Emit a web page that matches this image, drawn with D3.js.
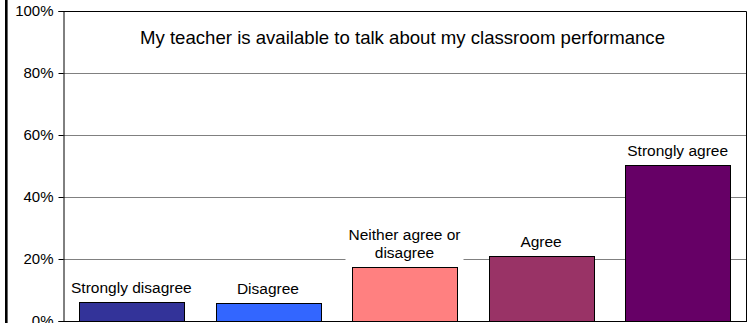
<!DOCTYPE html>
<html>
<head>
<meta charset="utf-8">
<script src="https://cdn.jsdelivr.net/npm/d3@7"></script>
<style>
  html, body { margin: 0; padding: 0; background: #fff; overflow: hidden; }
  svg { display: block; font-family: Arial, "Liberation Sans", Helvetica, sans-serif; }
</style>
</head>
<body>
<svg id="chart" width="752" height="323"></svg>
<script>
// Survey responses (share of students)
const categories = ["Strongly disagree", "Disagree", "Neither agree or disagree", "Agree", "Strongly agree"];
const labelLines = [["Strongly disagree"], ["Disagree"], ["Neither agree or", "disagree"], ["Agree"], ["Strongly agree"]];
const values = [0.060, 0.057, 0.175, 0.209, 0.502];
const barColors = ["#333399", "#3366ff", "#ff8080", "#993366", "#660066"];
const tickValues = [0, 0.2, 0.4, 0.6, 0.8, 1.0];
const title = "My teacher is available to talk about my classroom performance";

const svg = d3.select("#chart");
const plot = { left: 63, right: 746, top: 11, bottom: 321 };

const x = d3.scaleBand()
  .domain(categories)
  .range([plot.left, plot.right])
  .paddingInner(0.233)
  .paddingOuter(0.117);

const y = d3.scaleLinear()
  .domain([0, 1])
  .range([plot.bottom, plot.top]);

// outer border on the left of the chart area
svg.append("rect")
  .attr("x", 5).attr("y", 0)
  .attr("width", 2.6).attr("height", 323)
  .attr("fill", "#000");

// horizontal gridlines
svg.append("g")
  .selectAll("line")
  .data(tickValues.filter(d => d > 0 && d < 1))
  .join("line")
  .attr("x1", plot.left).attr("x2", plot.right)
  .attr("y1", d => Math.round(y(d)) + 0.5)
  .attr("y2", d => Math.round(y(d)) + 0.5)
  .attr("stroke", "#808080")
  .attr("stroke-width", 1);

// plot frame (top and right)
svg.append("path")
  .attr("d", `M${plot.left},${plot.top + 0.5}H${plot.right + 0.5}V${plot.bottom}`)
  .attr("fill", "none")
  .attr("stroke", "#000")
  .attr("stroke-width", 1);

// y axis
const yAxis = d3.axisLeft(y)
  .tickValues(tickValues)
  .tickFormat(d3.format(".0%"))
  .tickSize(5)
  .tickPadding(5);

const gy = svg.append("g")
  .attr("transform", `translate(${plot.left + 0.5},0)`)
  .call(yAxis);
gy.select(".domain").attr("stroke", "#000");
gy.selectAll(".tick line").attr("stroke", "#000");
gy.selectAll(".tick text")
  .attr("fill", "#000")
  .style("font-size", "15px")
  .style("font-family", "Arial, 'Liberation Sans', sans-serif");
gy.selectAll(".tick").attr("transform", d => `translate(0,${Math.round(y(d)) + 0.5})`);

// title inside the plot area
svg.append("text")
  .attr("x", (plot.left + plot.right) / 2 - 2)
  .attr("y", 44)
  .attr("text-anchor", "middle")
  .style("font-size", "18.6px")
  .attr("fill", "#000")
  .text(title);

// bars
svg.append("g")
  .selectAll("rect")
  .data(categories)
  .join("rect")
  .attr("x", d => Math.round(x(d)) + 0.5)
  .attr("y", (d, i) => Math.round(y(values[i])) + 0.5)
  .attr("width", Math.round(x.bandwidth()))
  .attr("height", (d, i) => y(0) - Math.round(y(values[i])))
  .attr("fill", (d, i) => barColors[i])
  .attr("stroke", "#000")
  .attr("stroke-width", 1);

// x axis baseline
svg.append("line")
  .attr("x1", plot.left).attr("x2", plot.right + 1)
  .attr("y1", plot.bottom + 0.5).attr("y2", plot.bottom + 0.5)
  .attr("stroke", "#000");

// category labels above each bar, on a white backing
const lineHeight = 17.7;
const labels = svg.append("g")
  .selectAll("g")
  .data(categories)
  .join("g");

labels.each(function (d, i) {
  const g = d3.select(this);
  const lines = labelLines[i];
  const cx = x(d) + x.bandwidth() / 2;
  const baseline = y(values[i]) - 9;
  const bg = g.append("rect").attr("fill", "#fff");
  const t = g.append("text")
    .attr("text-anchor", "middle")
    .style("font-size", "15.5px")
    .attr("fill", "#000");
  lines.forEach((ln, k) => {
    t.append("tspan")
      .attr("x", cx)
      .attr("y", baseline - (lines.length - 1 - k) * lineHeight)
      .text(ln);
  });
  const bb = t.node().getBBox();
  bg.attr("x", bb.x - 3).attr("y", bb.y - 1)
    .attr("width", bb.width + 6).attr("height", bb.height + 4);
});
</script>
</body>
</html>
